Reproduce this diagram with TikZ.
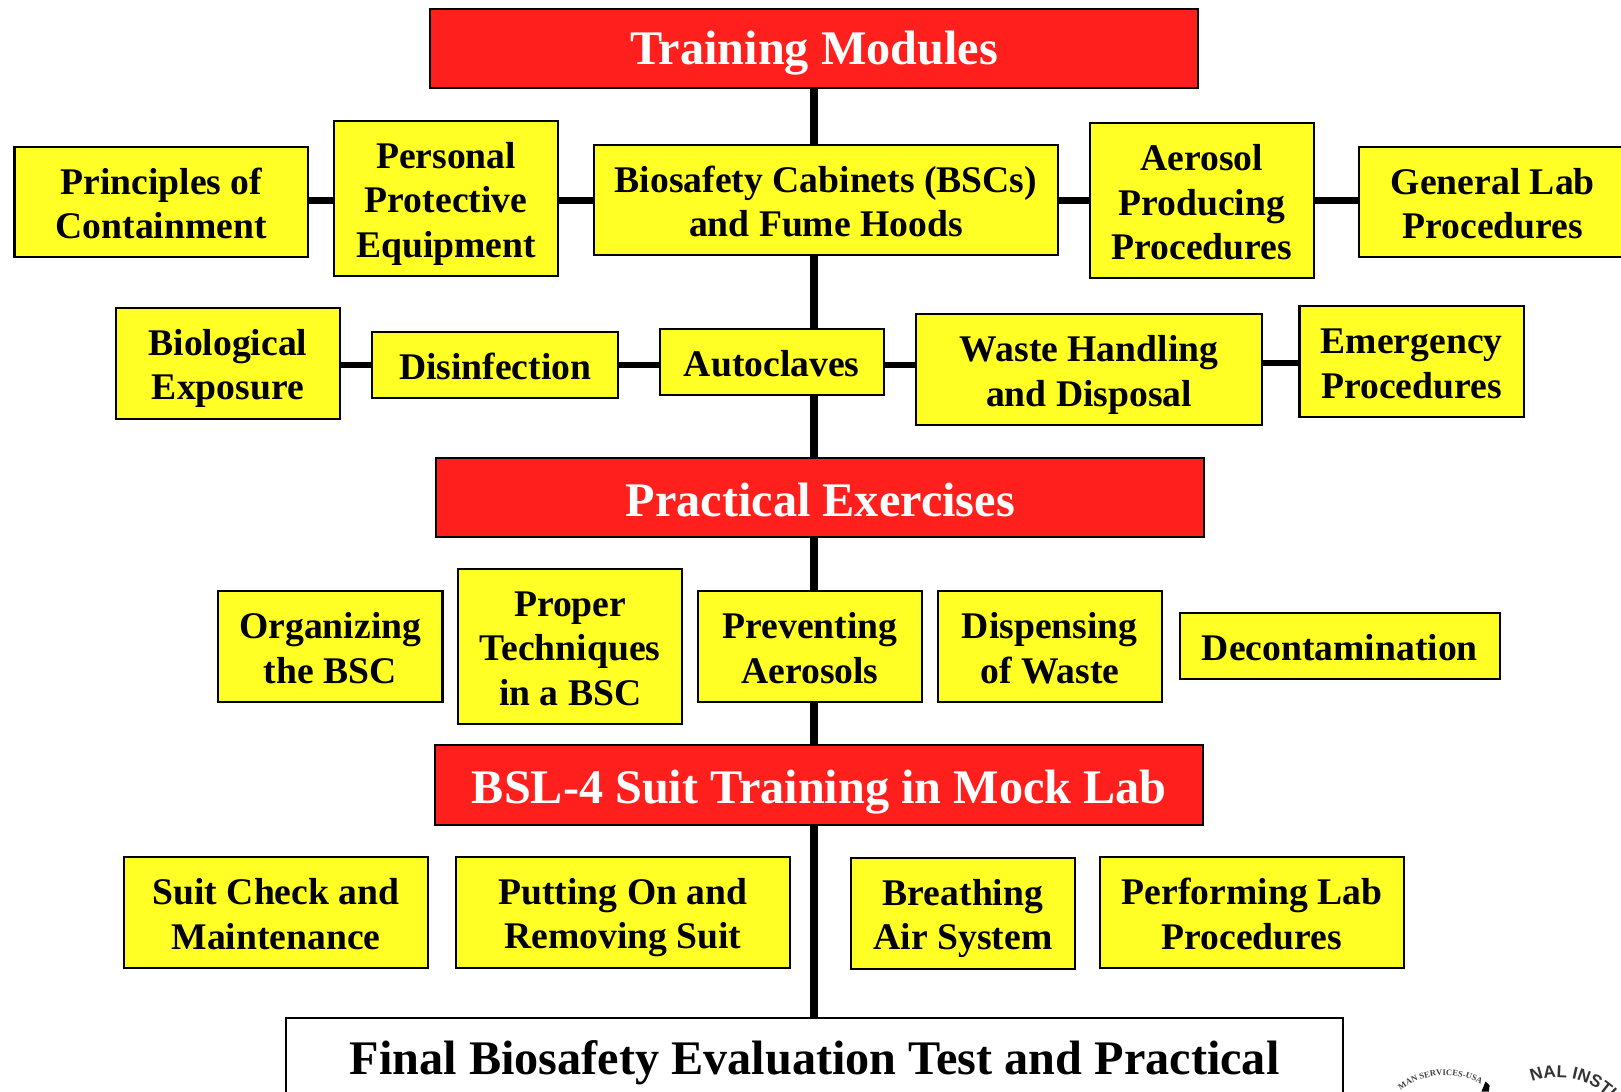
\documentclass[tikz,border=0pt]{standalone}
\usepackage{fontspec}
\setmainfont{Liberation Serif}
\setsansfont{Liberation Sans}
\usetikzlibrary{backgrounds,decorations.text}
\definecolor{boxyellow}{HTML}{FFFF26}
\definecolor{boxred}{HTML}{FF1F1C}
\newcommand{\smallstrut}{\rule{0pt}{22.8pt}}
\newcommand{\lowstrut}{\rule{0pt}{26.6pt}}
\newcommand{\bigstrut}{\rule{0pt}{30.6pt}}
\newcommand{\bslstrut}{\rule{0pt}{33.6pt}}
\newcommand{\smallend}{\rule[-1.7pt]{0pt}{1.7pt}}
\newcommand{\bigend}{\rule[-3pt]{0pt}{3pt}}
\newcommand{\bx}[7][yellowbox]{%
  \node[#1,minimum width={(#5-#3)*0.75pt},minimum height={(#6-#4)*0.75pt}] (#2) at ({(#3+#5)/2},{-(#4+#6)/2}) {\boxstrut #7\boxend};}
\tikzset{
  x=0.75pt,y=0.75pt,
  basebox/.style={draw=black,line width=1.5pt,inner sep=0pt,align=center,font=\bfseries\fontsize{27.3}{32.3}\selectfont\let\boxstrut\smallstrut\let\boxend\smallend},
  yellowbox/.style={basebox,fill=boxyellow,text=black},
  lowbox/.style={yellowbox,font=\bfseries\fontsize{27.3}{32.3}\selectfont\let\boxstrut\lowstrut\let\boxend\smallend},
  redbox/.style={basebox,fill=boxred,text=white,font=\bfseries\fontsize{35}{38}\selectfont\let\boxstrut\bigstrut\let\boxend\bigend},
  bslbox/.style={redbox,font=\bfseries\fontsize{35}{38}\selectfont\let\boxstrut\bslstrut\let\boxend\bigend},
  whitebox/.style={basebox,fill=white,text=black,font=\bfseries\fontsize{35}{38}\selectfont\let\boxstrut\bigstrut\let\boxend\bigend},
  spine/.style={draw=black,line width=6pt},
  rung/.style={draw=black,line width=4.5pt},
}
\begin{document}
\begin{tikzpicture}
\useasboundingbox (0,0) rectangle (1568,-1056);
\clip (0,0) rectangle (1568,-1056);
\coordinate (sx) at (787.5,0);
\coordinate (r1) at (0,-194);
\coordinate (r2) at (0,-353);
\coordinate (r3) at (0,-351);

\bx[redbox]{tm}{416}{9}{1159}{85}{Training Modules}
\bx{princ}{14}{142}{298}{249}{Principles of\\Containment}
\bx[lowbox]{ppe}{323}{117}{540}{267}{Personal\\Protective\\Equipment}
\bx{bsc}{575}{140}{1023}{247}{Biosafety Cabinets (BSCs)\\and Fume Hoods}
\bx{aero}{1054}{119}{1271}{269}{Aerosol\\Producing\\Procedures}
\bx{gen}{1315}{142}{1573}{249}{General Lab\\Procedures}
\bx[lowbox]{bio}{112}{298}{329}{405}{Biological\\Exposure}
\bx{dis}{360}{321}{598}{385}{Disinfection}
\bx{auto}{638}{318}{855}{382}{Autoclaves}
\bx[lowbox]{waste}{886}{304}{1221}{411}{Waste Handling\\and Disposal}
\bx{emer}{1257}{296}{1474}{403}{Emergency\\Procedures}
\bx[redbox]{pe}{422}{443}{1165}{519}{Practical Exercises}
\bx{org}{211}{572}{428}{679}{Organizing\\the BSC}
\bx{prop}{443}{550}{660}{700}{Proper\\Techniques\\in a BSC}
\bx{prev}{675}{572}{892}{679}{Preventing\\Aerosols}
\bx{disp}{907}{572}{1124}{679}{Dispensing\\of Waste}
\bx{decon}{1141}{593}{1451}{657}{Decontamination}
\bx[bslbox]{bsl}{421}{721}{1164}{798}{BSL-4 Suit Training in Mock Lab}
\bx{suit}{120}{829}{414}{936}{Suit Check and\\Maintenance}
\bx[lowbox]{put}{441}{829}{764}{936}{Putting On and\\Removing Suit}
\bx[lowbox]{bre}{823}{830}{1040}{937}{Breathing\\Air System}
\bx{perf}{1064}{829}{1358}{936}{Performing Lab\\Procedures}
\bx[whitebox]{fin}{277}{985}{1299}{1063}{Final Biosafety Evaluation Test and Practical}

\begin{scope}[on background layer]
\draw[spine] (tm.south -| sx) -- (bsc.north -| sx);
\draw[spine] (bsc.south -| sx) -- (pe.north -| sx);
\draw[spine] (pe.south -| sx) -- (prev.north -| sx);
\draw[spine] (prev.south -| sx) -- (bsl.north -| sx);
\draw[spine] (bsl.south -| sx) -- (fin.north -| sx);
\draw[rung] (princ.east |- r1) -- (ppe.west |- r1);
\draw[rung] (ppe.east |- r1) -- (bsc.west |- r1);
\draw[rung] (bsc.east |- r1) -- (aero.west |- r1);
\draw[rung] (aero.east |- r1) -- (gen.west |- r1);
\draw[rung] (bio.east |- r2) -- (dis.west |- r2);
\draw[rung] (dis.east |- r2) -- (auto.west |- r2);
\draw[rung] (auto.east |- r2) -- (waste.west |- r2);
\draw[rung] (waste.east |- r3) -- (emer.west |- r3);
\end{scope}

% partly visible seals at the lower right
\path[decorate,decoration={text along path,text align=left,
  text={|\bfseries\fontsize{6.2}{7}\selectfont\color{black!75}|MAN SERVICES-USA}}]
  (1398,-1110) ++(128:52.5pt) arc[start angle=128,end angle=30,radius=52.5pt];
\path[decorate,decoration={text along path,text align=left,
  text={|\sffamily\bfseries\fontsize{12.5}{13}\selectfont\color{black!80}|NAL INSTI}}]
  (1507,-1112) ++(111:52.5pt) arc[start angle=111,end angle=10,radius=52.5pt];
\fill[black] (1433,-1056) -- (1437,-1046) -- (1441,-1050) -- (1440,-1056) -- cycle;
\end{tikzpicture}
\end{document}
